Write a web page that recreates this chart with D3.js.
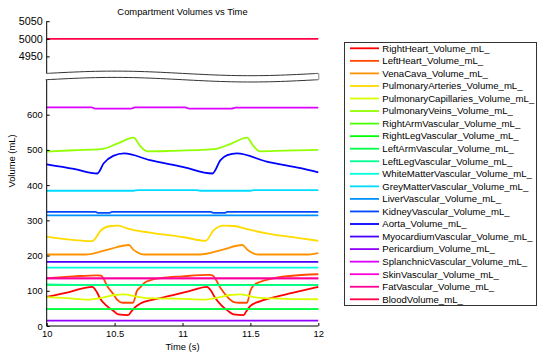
<!DOCTYPE html>
<html><head><meta charset="utf-8">
<script src="https://cdn.jsdelivr.net/npm/d3@7"></script>
<style>
html,body{margin:0;padding:0;background:#fff;}
svg{display:block;font-family:"Liberation Sans",Arial,Helvetica,sans-serif;}
</style></head>
<body>
<svg id="c" width="557" height="354"></svg>
<script>
// ---------- DATA ----------
const seriesNames = [
  "RightHeart_Volume_mL_","LeftHeart_Volume_mL_","VenaCava_Volume_mL_","PulmonaryArteries_Volume_mL_",
  "PulmonaryCapillaries_Volume_mL_","PulmonaryVeins_Volume_mL_","RightArmVascular_Volume_mL_",
  "RightLegVascular_Volume_mL_","LeftArmVascular_Volume_mL_","LeftLegVascular_Volume_mL_",
  "WhiteMatterVascular_Volume_mL_","GreyMatterVascular_Volume_mL_","LiverVascular_Volume_mL_",
  "KidneyVascular_Volume_mL_","Aorta_Volume_mL_","MyocardiumVascular_Volume_mL_","Pericardium_Volume_mL_",
  "SplanchnicVascular_Volume_mL_","SkinVascular_Volume_mL_","FatVascular_Volume_mL_","BloodVolume_mL_"
];
const xTicks = [10, 10.5, 11, 11.5, 12];
const xTickLabels = ["10","10.5","11","11.5","12"];
const yTicksLow = [0,100,200,300,400,500,600];
const yTicksHigh = [4950,5000,5050];

// each series: [time (s), volume (mL)]
const rightHeart = [[10,83],[10.15,95],[10.28,108],[10.336,111],[10.368,97],[10.392,79],[10.442,57],[10.49,43.5],
  [10.527,33],[10.60,31],[10.625,42],[10.65,53],[10.69,64],[10.8,76],[10.93,88],[11.05,99],[11.18,111],
  [11.21,100],[11.24,80],[11.29,57],[11.335,43],[11.375,33],[11.45,31],[11.47,42],[11.5,57],[11.57,70],
  [11.65,79],[11.8,93],[12,111]];
const leftHeart = [[10,136],[10.2,141],[10.37,144],[10.40,143],[10.45,111],[10.495,88],[10.52,74],[10.56,66],
  [10.635,66],[10.665,100],[10.69,110],[10.715,121],[10.765,130],[10.84,136],[11.0,141],[11.2,145],[11.22,144],
  [11.28,108],[11.33,83],[11.38,68],[11.415,66],[11.475,66],[11.50,100],[11.52,114],[11.57,125],[11.65,134],
  [11.79,142],[12,147]];
const venaCava = [[10,203],[10.29,203],[10.45,217],[10.605,230],[10.64,216],[10.69,205],[10.72,203],[11.13,203],
  [11.29,216],[11.44,230],[11.48,216],[11.53,205],[11.56,203],[11.93,203],[12,207]];
const pulmonaryArteries = [[10,254],[10.15,246],[10.336,241],[10.40,272],[10.47,284],[10.53,285],[10.59,277],
  [10.76,265],[11.01,252],[11.17,242],[11.23,272],[11.30,285],[11.38,284],[11.475,275],[11.62,263],[11.87,249],[12,242]];
const pulmonaryCapillaries = [[10,82],[10.15,79],[10.30,75],[10.40,80],[10.5,88],[10.57,90],[10.65,84],[10.72,80],
  [10.85,78],[11.0,77],[11.15,75],[11.25,80],[11.35,88],[11.43,90],[11.5,84],[11.57,80],[11.7,78],[12,76]];
const pulmonaryVeins = [[10,495],[10.2,499],[10.40,502],[10.52,518],[10.64,535],[10.69,510],[10.74,496],[10.9,497],
  [11.23,502],[11.36,518],[11.475,535],[11.52,512],[11.57,496],[11.75,498],[12,500]];
const rightArm = [[10,48],[12,48]];
const rightLeg = [[10,117],[12,117]];
const leftArm = [[10,48],[12,48]];
const leftLeg = [[10,118],[10.2,117],[11.05,117],[11.3,116],[12,117]];
const whiteMatter = [[10,166],[12,166]];
const greyMatter = [[10,384],[10.64,384],[10.67,386],[11.1,386],[11.13,384],[11.5,384],[11.53,386],[12,386]];
const liver = [[10,314],[12,314]];
const kidney = [[10,324],[10.36,324],[10.38,321],[10.46,321],[10.48,324],[11.21,324],[11.23,321],[11.31,321],[11.33,324],[12,324]];
const aorta = [[10,459],[10.2,446],[10.373,433],[10.42,462],[10.49,483],[10.57,490],[10.76,471],[11.0,452],
  [11.22,433],[11.28,471],[11.33,485],[11.40,490],[11.62,467],[11.87,448],[12,436]];
const myocardium = [[10,182],[12,182]];
const pericardium = [[10,15],[12,15]];
const splanchnic = [[10,621],[10.33,621],[10.36,617],[10.62,617],[10.65,621],[11.02,621],[11.05,617],[11.36,617],[11.39,620],[12,620]];
const skin = [[10,135],[12,135]];
const fat = [[10,135],[12,135]];
const bloodVolume = [[10,5000],[12,5000]];

const seriesData = [rightHeart,leftHeart,venaCava,pulmonaryArteries,pulmonaryCapillaries,pulmonaryVeins,
  rightArm,rightLeg,leftArm,leftLeg,whiteMatter,greyMatter,liver,kidney,aorta,myocardium,pericardium,
  splanchnic,skin,fat,bloodVolume];

// ---------- CHART ----------
const svg = d3.select("#c");
const left = 46.7, right = 318.3, bottom = 326;
const x = d3.scaleLinear().domain([10,12]).range([left,right]);
const yLow = d3.scaleLinear().domain([0,600]).range([bottom,114.7]);
const yHigh = d3.scaleLinear().domain([4950,5050]).range([56.4,21.2]);
const yv = v => v > 2000 ? yHigh(v) : yLow(v);
const color = i => d3.hsl(i*360/seriesNames.length, 1, 0.5).formatHex();

const fs = "9.4px";

// title
svg.append("text").attr("x",(left+right)/2).attr("y",14.5).attr("text-anchor","middle")
  .attr("font-size",fs).attr("fill","#000").text("Compartment Volumes vs Time");

// lines
const line = d3.line().x(d=>x(d[0])).y(d=>yv(d[1])).curve(d3.curveMonotoneX);
const gLines = svg.append("g");
seriesData.forEach((s,i)=>{
  gLines.append("path").datum(s).attr("d",line).attr("fill","none")
    .attr("stroke",color(i)).attr("stroke-width",1.8).attr("stroke-linejoin","round");
});

// axes
svg.append("line").attr("x1",left).attr("x2",left).attr("y1",yHigh(5050)).attr("y2",bottom)
  .attr("stroke","#000").attr("stroke-width",1);
svg.append("line").attr("x1",left).attr("x2",right).attr("y1",bottom).attr("y2",bottom)
  .attr("stroke","#000").attr("stroke-width",1);

const axL = svg.append("g").attr("transform",`translate(${left},0)`)
  .call(d3.axisLeft(yLow).tickValues(yTicksLow).tickSizeInner(-3).tickSizeOuter(0).tickPadding(4).tickFormat(d3.format("d")));
const axH = svg.append("g").attr("transform",`translate(${left},0)`)
  .call(d3.axisLeft(yHigh).tickValues(yTicksHigh).tickSizeInner(-3).tickSizeOuter(0).tickPadding(4).tickFormat(d3.format("d")));
const axB = svg.append("g").attr("transform",`translate(0,${bottom})`)
  .call(d3.axisBottom(x).tickValues(xTicks).tickSizeInner(-3).tickSizeOuter(0).tickPadding(4)
    .tickFormat((d,i)=>xTickLabels[i]));
[axL,axH,axB].forEach(g=>{
  g.select(".domain").remove();
  g.selectAll("text").attr("font-size",fs).attr("fill","#000").attr("font-family",'"Liberation Sans",Arial,sans-serif');
  g.selectAll(".tick line").attr("stroke","#000");
});
axH.selectAll("text").attr("font-size","10.8px");

// axis break (wavy band)
const bx = d3.range(0,1.0001,0.02);
const upperWave = bx.map(u=>[left+u*(right-left), 73.4 - 2.3*Math.sin(2*Math.PI*u)]);
const lowerWave = upperWave.map(p=>[p[0], p[1]+6.3]);
const band = upperWave.map(p=>[p[0],p[1]]).concat(lowerWave.slice().reverse());
band[0][0] = left-1; band[band.length-1][0] = left-1;
svg.append("path").attr("d", d3.line()(band)+"Z").attr("fill","#fff").attr("stroke","none");
svg.append("path").attr("d", d3.line().curve(d3.curveBasis)(upperWave)).attr("fill","none").attr("stroke","#333").attr("stroke-width",1);
svg.append("path").attr("d", d3.line().curve(d3.curveBasis)(lowerWave)).attr("fill","none").attr("stroke","#333").attr("stroke-width",1);
svg.append("line").attr("x1",right+0.5).attr("x2",right+0.5).attr("y1",upperWave[upperWave.length-1][1]).attr("y2",lowerWave[lowerWave.length-1][1])
  .attr("stroke","#888").attr("stroke-width",1);

// axis labels
svg.append("text").attr("x",(left+right)/2).attr("y",350).attr("text-anchor","middle")
  .attr("font-size",fs).attr("fill","#000").text("Time (s)");
svg.append("text").attr("transform","translate(14.5,161) rotate(-90)").attr("text-anchor","middle")
  .attr("font-size",fs).attr("fill","#000").text("Volume (mL)");

// legend
const lg = svg.append("g");
const lgX = 344.5, lgY = 42.5, lgW = 192, lgH = 263, step = 12.55;
lg.append("rect").attr("x",lgX).attr("y",lgY).attr("width",lgW).attr("height",lgH)
  .attr("fill","#fff").attr("stroke","#333").attr("stroke-width",1);
seriesNames.forEach((n,i)=>{
  const yy = 48.3 + i*step;
  lg.append("line").attr("x1",350).attr("x2",379).attr("y1",yy).attr("y2",yy)
    .attr("stroke",color(i)).attr("stroke-width",1.8);
  lg.append("text").attr("x",382.3).attr("y",yy+3.3).attr("font-size","9.6px").attr("fill","#000").text(n);
});
</script>
</body></html>
